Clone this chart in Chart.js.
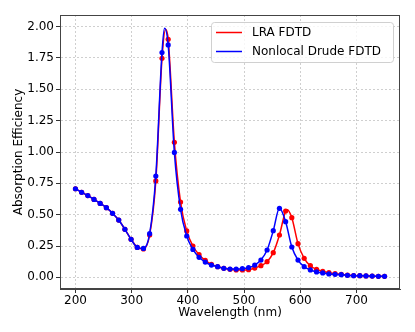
<!DOCTYPE html>
<html>
<head>
<meta charset="utf-8">
<script src="https://cdn.jsdelivr.net/npm/chart.js@4/dist/chart.umd.min.js"></script>
<style>
  html, body { margin: 0; padding: 0; background: #fff; }
  #wrap { width: 415px; height: 332px; }
</style>
</head>
<body>
<div id="wrap"><canvas id="chart" width="415" height="332"></canvas></div>
<script>
// sampled wavelengths (markers)
const wavelengths = [200, 211, 222, 233, 244, 255, 266, 277, 288, 299, 310, 321, 332, 343, 354, 365, 376, 387, 398, 409,
  420, 431, 442, 453, 464, 475, 486, 497, 508, 519, 530, 541, 552, 563, 574, 585, 596, 607, 618, 629,
  640, 651, 662, 673, 684, 695, 706, 717, 728, 739, 750];

const lraEff = [0.707, 0.678, 0.652, 0.622, 0.590, 0.556, 0.511, 0.457, 0.383, 0.303, 0.239, 0.226, 0.338, 0.769, 1.747, 1.899, 1.077, 0.601, 0.370, 0.250,
  0.181, 0.136, 0.104, 0.085, 0.072, 0.064, 0.059, 0.059, 0.061, 0.074, 0.093, 0.125, 0.197, 0.338, 0.529, 0.476, 0.269, 0.152, 0.093, 0.064,
  0.048, 0.037, 0.029, 0.024, 0.018, 0.014, 0.013, 0.011, 0.010, 0.008, 0.008];

const drudeEff = [0.707, 0.678, 0.652, 0.622, 0.590, 0.556, 0.511, 0.457, 0.383, 0.303, 0.239, 0.231, 0.348, 0.808, 1.793, 1.854, 0.997, 0.543, 0.330, 0.223,
  0.160, 0.122, 0.098, 0.085, 0.072, 0.066, 0.066, 0.069, 0.077, 0.098, 0.138, 0.218, 0.372, 0.551, 0.444, 0.242, 0.138, 0.085, 0.059, 0.043,
  0.035, 0.027, 0.024, 0.021, 0.016, 0.013, 0.013, 0.011, 0.010, 0.008, 0.008];

// curve maxima between markers
const lraPeaks = [[360.5, 1.98], [577, 0.54]];
const drudePeaks = [[358.5, 1.987]];

const xTicks = [200, 300, 400, 500, 600, 700];
const yTicks = [0, 0.25, 0.5, 0.75, 1.0, 1.25, 1.5, 1.75, 2.0];

function buildPoints(ys, peaks) {
  const pts = wavelengths.map((x, i) => ({ x: x, y: ys[i], m: true }));
  peaks.forEach(p => pts.push({ x: p[0], y: p[1], m: false }));
  pts.sort((a, b) => a.x - b.x);
  return pts;
}

const font = 'DejaVu Sans';

// frame + legend drawn inside the axes box
const framePlugin = {
  id: 'frame',
  afterDraw(chart) {
    const c = chart.ctx, a = chart.chartArea;
    c.save();
    c.strokeStyle = '#444';
    c.lineWidth = 1;
    c.strokeRect(a.left + 0.5, a.top + 0.5, a.right - a.left - 1, a.bottom - a.top - 1);

    // legend
    const bx = 211, by = 22, bw = 182, bh = 40;
    c.fillStyle = 'rgba(255,255,255,0.8)';
    c.strokeStyle = '#d0d0d0';
    c.beginPath();
    c.roundRect(bx + 0.5, by + 0.5, bw, bh, 3);
    c.fill();
    c.stroke();
    const items = [['LRA FDTD', '#ff0000'], ['Nonlocal Drude FDTD', '#0000ff']];
    c.font = '12px "' + font + '"';
    c.textBaseline = 'middle';
    items.forEach((it, i) => {
      const y = by + 10.5 + i * 19;
      c.strokeStyle = it[1];
      c.lineWidth = 1.5;
      c.beginPath();
      c.moveTo(216, y);
      c.lineTo(242, y);
      c.stroke();
      c.fillStyle = '#000';
      c.fillText(it[0], 252, y + 0.5);
    });
    c.restore();
  }
};

const ds = (label, color, pts, order) => ({
  label: label,
  data: pts,
  order: order,
  showLine: true,
  borderColor: color,
  backgroundColor: color,
  borderWidth: 1.5,
  cubicInterpolationMode: 'monotone',
  pointRadius: ctx => (ctx.raw && ctx.raw.m ? 2.6 : 0),
  pointBorderWidth: 0,
  pointHoverRadius: 0
});

const gridOpts = { color: '#cfcfcf', tickColor: '#333', tickLength: 4, tickBorderDash: [] };
const borderOpts = { display: true, color: '#444', dash: [2, 2] };

new Chart(document.getElementById('chart').getContext('2d'), {
  type: 'scatter',
  data: {
    datasets: [
      ds('LRA FDTD', '#ff0000', buildPoints(lraEff, lraPeaks), 2),
      ds('Nonlocal Drude FDTD', '#0000ff', buildPoints(drudeEff, drudePeaks), 1)
    ]
  },
  options: {
    responsive: false,
    animation: false,
    layout: { padding: { top: 15, right: 15, left: 0, bottom: 0 } },
    plugins: { legend: { display: false }, tooltip: { enabled: false } },
    scales: {
      x: {
        type: 'linear',
        min: 172.5,
        max: 777.5,
        afterBuildTicks: s => { s.ticks = xTicks.map(v => ({ value: v })); },
        afterFit: s => { s.height = 43; },
        grid: gridOpts,
        border: borderOpts,
        ticks: { color: '#000', font: { family: font, size: 12 }, padding: 1, maxRotation: 0 },
        title: { display: true, text: 'Wavelength (nm)', color: '#000', font: { family: font, size: 12 }, padding: { top: 0, bottom: 12 } }
      },
      y: {
        min: -0.093,
        max: 2.093,
        afterBuildTicks: s => { s.ticks = yTicks.map(v => ({ value: v })); },
        afterFit: s => { s.width = 60; },
        grid: gridOpts,
        border: borderOpts,
        ticks: { color: '#000', font: { family: font, size: 12 }, padding: 2, callback: v => v.toFixed(2) },
        title: { display: true, text: 'Absorption Efficiency', color: '#000', font: { family: font, size: 12 }, padding: { top: 12, bottom: 0 } }
      }
    }
  },
  plugins: [framePlugin]
});
</script>
</body>
</html>
